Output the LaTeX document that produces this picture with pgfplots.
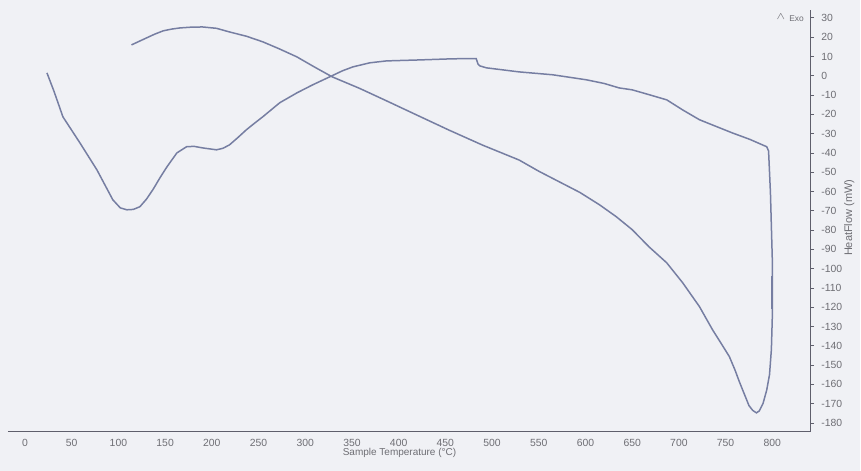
\documentclass[border=0pt]{standalone}
\usepackage{fontspec}
\setmainfont{Liberation Sans}
\usepackage{pgfplots}
\pgfplotsset{compat=1.18}
\definecolor{bg}{RGB}{240,241,245}
\definecolor{curve}{RGB}{118,126,162}
\definecolor{txt}{RGB}{110,110,116}
\definecolor{axc}{RGB}{95,95,108}
\begin{document}
\begin{tikzpicture}[x=1pt,y=1pt]
\fill[bg] (0,0) rectangle (430.5,235.5);
\begin{axis}[
  at={(4pt,19.5pt)}, anchor=south west,
  scale only axis, width=401.5pt, height=211pt,
  xmin=-18.2, xmax=840.6, ymin=-184.5, ymax=34.1,
  axis x line*=bottom, axis y line*=right,
  axis line style={axc, line width=0.5pt},
  xtick={0,50,...,800},
  ytick={-180,-170,...,30},
  xtick style={draw=none},
  ytick style={axc, line width=0.4pt},
  tick align=outside, major tick length=2pt,
  /pgf/number format/assume math mode=true,
  ticklabel style={font=\fontsize{5.2}{6}\selectfont, text=txt},
  xticklabel style={yshift=1.5pt},
  yticklabel style={xshift=0pt},
  xlabel={Sample Temperature (°C)},
  xlabel style={font=\fontsize{5}{6}\selectfont, text=txt, at={(axis description cs:0.488,0)}, anchor=north, yshift=-5pt},
  ylabel={HeatFlow (mW)},
  ylabel style={font=\fontsize{5.5}{6}\selectfont, text=txt, at={(axis description cs:1.0486,0.507)}, anchor=center},
  clip=false,
]
\addplot[curve, line width=0.75pt] coordinates {
(23.5,1.5) (31,-8) (40.6,-21.3) (58.8,-34.8) (77,-48.8) (94,-64.3) (102,-68.5) (109,-69.5) (116,-69.3) (123,-67.9) (130,-64) (137,-59) (145,-52.5) (152,-47.2) (162.6,-40) (173,-36.8) (181,-36.6) (190,-37.4) (205,-38.4) (212,-37.6) (219,-35.8) (228,-32) (237,-28) (246,-24.5) (254.5,-21.3) (272.7,-14) (291,-8.9) (308,-4.7) (326,-0.6) (340,2.6) (351,4.6) (369,6.7) (387,7.7) (422,8.2) (458,8.8) (483,8.9) (485,6) (487,5.1) (494,4.1) (529,2) (565,0.5) (601,-2.1) (620,-4) (636,-6.3) (650,-7.3) (668,-9.8) (687,-12.5) (704,-17.7) (722,-22.8) (740,-26.3) (757,-29.6) (776,-33) (794,-36.8) (796,-39)
(798,-60.7) (800,-95.4) (800,-125) (799,-142) (797,-155) (794,-163) (790,-170) (786,-173.8) (783,-174.8) (779,-173.5) (775,-171) (770,-165) (765,-159) (760,-152.5) (754,-145.6) (745,-138.6) (736,-131.7) (722,-119.7) (704,-107.3) (687,-97) (668,-88.7) (650,-79.8) (633,-73.1) (615,-66.9) (594,-60.5) (572,-55) (550,-49.5) (529,-43.7) (490,-36) (454,-28.2) (420,-20.5) (387,-13) (358,-6.5) (329,-0.6) (310,4.5) (291,9.8) (272,14) (254.5,17.6) (237,20.5) (219,22.7) (205,24.6) (190,25.3) (178,25.2) (166,24.8) (157,24.2) (148,23.3) (139,21.6) (130,19.6) (122,17.8) (114,16)
};
\addplot[curve, line width=1.1pt] coordinates {(799.6,-104) (799.6,-121)};
\node[font=\fontsize{5}{6}\selectfont, text=txt, anchor=center] at (axis cs:809,30.5) {$\wedge$};
\node[font=\fontsize{4.2}{5}\selectfont, text=txt, anchor=center] at (axis cs:826,29.5) {Exo};
\end{axis}
\end{tikzpicture}
\end{document}
